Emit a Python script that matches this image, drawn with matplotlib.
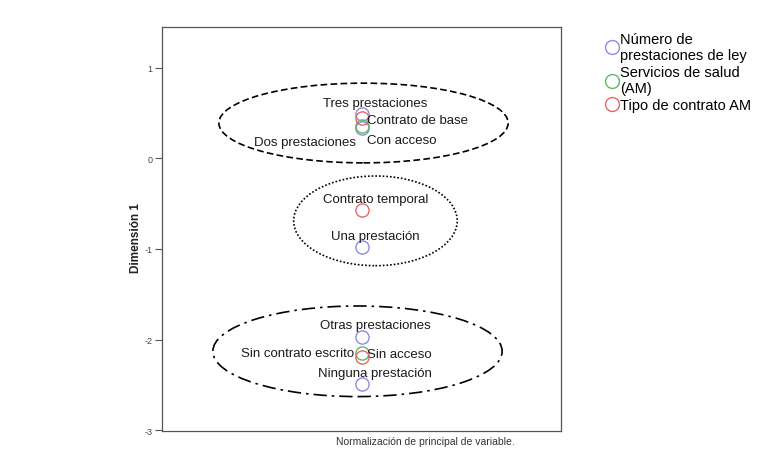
import matplotlib
matplotlib.use("Agg")
import matplotlib.pyplot as plt
from matplotlib.patches import Ellipse
from matplotlib.lines import Line2D

plt.rcParams['font.family'] = ['Liberation Sans', 'DejaVu Sans']

series_names = ["Número de\nprestaciones de ley", "Servicios de salud\n(AM)", "Tipo de contrato AM"]
series_colors = ["#8c8ce0", "#5fb85f", "#e06a6a"]

# Category points
cat_labels = ["Tres prestaciones", "Dos prestaciones", "Una prestación", "Otras prestaciones", "Ninguna prestación",
              "Con acceso", "Sin acceso",
              "Contrato de base", "Contrato temporal", "Sin contrato escrito"]
cat_series = [0, 0, 0, 0, 0, 1, 1, 2, 2, 2]
cat_x = [0.0, 0.0, 0.0, 0.0, 0.0, 0.0, 0.0, 0.0, 0.0, 0.0]
cat_y = [0.49, 0.33, -0.98, -1.97, -2.49, 0.36, -2.15, 0.44, -0.57, -2.19]
# label placement (style only)
cat_place = ["above", "leftbelow", "above", "above", "above", "rightbelow", "rightlow", "right", "above", "left"]

yticks = [-3, -2, -1, 0, 1]

# annotation ellipses (center x, center y, width, height, linestyle)
ell_cx = [0.01, 0.07, -0.02]
ell_cy = [0.39, -0.69, -2.13]
ell_w = [1.45, 0.82, 1.45]
ell_h = [0.88, 0.99, 1.0]
ell_ls = [(0, (4, 2)), (0, (1, 1.2)), (0, (8, 3, 1.5, 3))]

fig = plt.figure(figsize=(7.69, 4.60), dpi=100)
ax = fig.add_axes([162/769, 28/460, (561-162)/769, (432-28)/460])
ax.set_xlim(-1, 1)
ax.set_ylim(-3.01, 1.45)

offsets = {"above": ((10, 8.2), 'center'),
           "left": ((-5, 2.5), 'right'),
           "leftbelow": ((-4, -9.7), 'right'),
           "right": ((4, -1.4), 'left'),
           "rightbelow": ((4, -10.5), 'left'),
           "rightlow": ((4, -0.7), 'left')}

for lab, s, x, y, pl in zip(cat_labels, cat_series, cat_x, cat_y, cat_place):
    ax.plot([x], [y], marker='o', markersize=9.5, markerfacecolor='none',
            markeredgecolor=series_colors[s], markeredgewidth=1.0, linestyle='none', zorder=3)
    off, ha = offsets[pl]
    ax.annotate(lab, (x, y), xytext=off, textcoords='offset points', ha=ha, va='center',
                fontsize=9.5, color='#1a1a1a')

for cx, cy, w, h, ls in zip(ell_cx, ell_cy, ell_w, ell_h, ell_ls):
    ax.add_patch(Ellipse((cx, cy), w, h, fill=False, edgecolor='black', linewidth=1.2, linestyle=ls))

ax.set_yticks(yticks)
ax.set_yticklabels([str(t) for t in yticks], fontsize=6.5, color='#444444')
ax.set_xticks([])
ax.tick_params(axis='y', direction='out', length=5, width=0.8, color='#555555', pad=2)
for sp in ax.spines.values():
    sp.set_color('#555555')
    sp.set_linewidth(0.9)
ax.set_ylabel("Dimensión 1", fontsize=8.5, fontweight='bold', color='#222222')
ax.yaxis.set_label_coords(-0.05, 0.48)

fig.text(425/769, 1 - 442/460, "Normalización de principal de variable.", fontsize=7.5, ha='center', va='center',
         color='#333333')

handles = [Line2D([], [], marker='o', markersize=10, markerfacecolor='none', markeredgecolor=c,
                  markeredgewidth=1.0, linestyle='none') for c in series_colors]
fig.legend(handles, series_names, loc='upper left', bbox_to_anchor=(603/769, 1 - 33/460), frameon=False,
           fontsize=10.5, handletextpad=0.0, labelspacing=0.2, handlelength=1.2, borderaxespad=0,
           borderpad=0)

fig.savefig("out.png", dpi=100)
